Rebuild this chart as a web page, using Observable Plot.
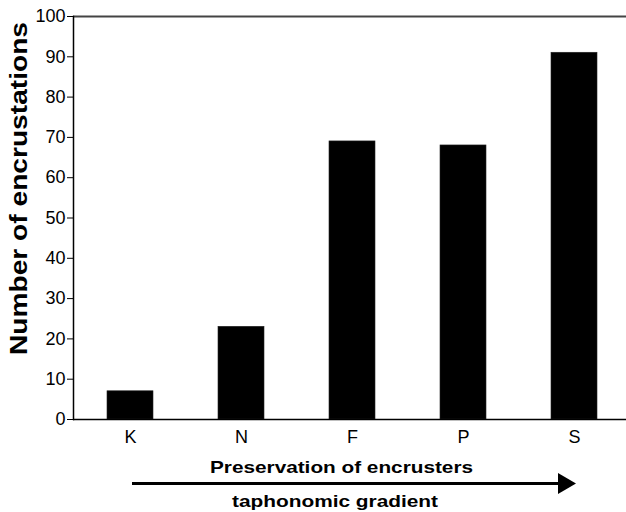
<!DOCTYPE html>
<html><head><meta charset="utf-8">
<script src="https://cdn.jsdelivr.net/npm/d3@7"></script>
<script src="https://cdn.jsdelivr.net/npm/@observablehq/plot@0.6"></script>
<style>
body{margin:0;background:#fff;overflow:hidden}
svg{font-family:"Liberation Sans",Arial,sans-serif}
</style>
</head><body><div id="chart"></div>
<script>
const categories = ["K", "N", "F", "P", "S"];
const counts = [7, 23, 69, 68, 91];
const yTicks = [0, 10, 20, 30, 40, 50, 60, 70, 80, 90, 100];
const yTitle = "Number of encrustations";
const xTitle = "Preservation of encrusters";
const gradientLabel = "taphonomic gradient";

const data = categories.map((c, i) => ({cat: c, n: counts[i]}));

const plot = Plot.plot({
  width: 626, height: 512,
  marginTop: 16, marginBottom: 93, marginLeft: 73, marginRight: 0,
  style: {fontFamily: '"Liberation Sans", Arial, sans-serif', fontSize: "18px", color: "#000", background: "#fff"},
  x: {domain: categories, range: [73, 631], paddingInner: 0.59, paddingOuter: 0.295, label: null},
  y: {domain: [0, 100], label: null},
  marks: [
    Plot.barY(data, {x: "cat", y: "n", fill: "#000", stroke: "#222", strokeWidth: 0.6}),
    Plot.ruleY([0], {stroke: "#000", strokeWidth: 1.5}),
    Plot.ruleY([100], {stroke: "#444", strokeWidth: 2}),
    Plot.frame({anchor: "left", stroke: "#000", strokeWidth: 1.5}),
    Plot.axisY({ticks: yTicks, tickSize: 6, tickPadding: 2, label: null}),
    Plot.axisX({tickSize: 0, tickPadding: 11, label: null})
  ]
});
document.getElementById("chart").appendChild(plot);

const svg = d3.select(plot);
svg.selectAll("text").style("font-size", "18px");

// Y axis title
svg.append("text")
  .attr("transform", "translate(27,188.5) rotate(-90)")
  .attr("text-anchor", "middle")
  .attr("font-weight", "bold")
  .attr("font-size", 23)
  .attr("textLength", 333)
  .attr("lengthAdjust", "spacingAndGlyphs")
  .attr("fill", "#000")
  .text(yTitle);
// X axis title
svg.append("text")
  .attr("x", 341.5).attr("y", 473)
  .attr("text-anchor", "middle")
  .attr("font-weight", "bold")
  .attr("font-size", 17)
  .attr("textLength", 263)
  .attr("lengthAdjust", "spacingAndGlyphs")
  .attr("fill", "#000")
  .text(xTitle);
// Arrow
svg.append("line")
  .attr("x1", 132).attr("x2", 560).attr("y1", 483.5).attr("y2", 483.5)
  .attr("stroke", "#000").attr("stroke-width", 3);
svg.append("polygon")
  .attr("points", "558,473 576,483.5 558,494")
  .attr("fill", "#000");
svg.append("text")
  .attr("x", 335).attr("y", 507)
  .attr("text-anchor", "middle")
  .attr("font-weight", "bold")
  .attr("font-size", 17)
  .attr("textLength", 206)
  .attr("lengthAdjust", "spacingAndGlyphs")
  .attr("fill", "#000")
  .text(gradientLabel);
</script>
</body></html>
